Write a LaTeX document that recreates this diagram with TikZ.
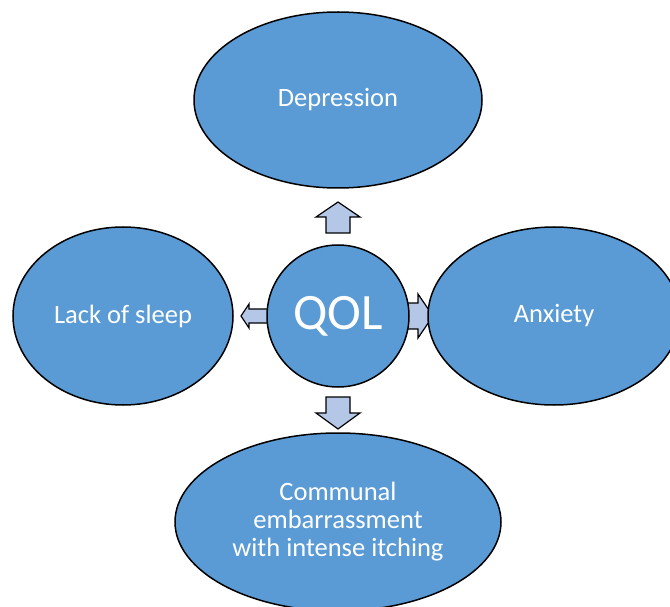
\documentclass[tikz,border=0pt]{standalone}
\usepackage{fontspec}
\setmainfont{Carlito}
\usetikzlibrary{shapes.geometric, positioning, backgrounds}
\definecolor{bubbleblue}{HTML}{5B9BD5}
\definecolor{arrowblue}{HTML}{B4C7E7}
\tikzset{bubble/.style={ellipse, draw=black, line width=1.5pt, fill=bubbleblue,
        text=white, inner sep=0pt, align=center, font=\fontsize{26.5}{28}\selectfont},
    blockarrow/.style={draw=black, line width=1.2pt, fill=arrowblue, line join=miter}}

\begin{document}
\begin{tikzpicture}[x=1pt, y=-1pt, node distance=216pt]
    \clip (0,0) rectangle (670,607);
    \useasboundingbox (0,0) rectangle (670,607);
    \node[bubble, circle, minimum size=142pt, font=\fontsize{51}{52}\selectfont] (qol) at (338,316) {QOL};
    \node[bubble, minimum width=288pt, minimum height=176pt, above of=qol] (depression) {Depression};
    \node[bubble, minimum width=220pt, minimum height=178pt, left of=qol, xshift=1pt] (sleep) {Lack of sleep};
    \node[bubble, minimum width=252pt, minimum height=178pt, right of=qol] (anxiety) {Anxiety};
    \node[bubble, minimum width=326pt, minimum height=178pt, below of=qol, yshift=10pt] (communal) {Communal\\embarrassment\\with intense itching};
    % block arrows out of QOL
    \begin{scope}[on background layer, shift={(qol.center)}]
        \draw[blockarrow] (-12,-83) -- (-12,-99) -- (-22,-99) -- (0,-114) -- (22,-99) -- (12,-99) -- (12,-83) -- cycle;
        \draw[blockarrow] (-12,81) -- (-12,97) -- (-22,97) -- (0,113) -- (22,97) -- (12,97) -- (12,81) -- cycle;
        \draw[blockarrow] (65,-13) -- (80,-13) -- (80,-22) -- (95,0) -- (80,22) -- (80,13) -- (65,13) -- cycle;
        \draw[blockarrow] (-65,-7) -- (-89,-7) -- (-89,-12) -- (-97,0) -- (-89,12) -- (-89,7) -- (-65,7) -- cycle;
    \end{scope}
\end{tikzpicture}
\end{document}
